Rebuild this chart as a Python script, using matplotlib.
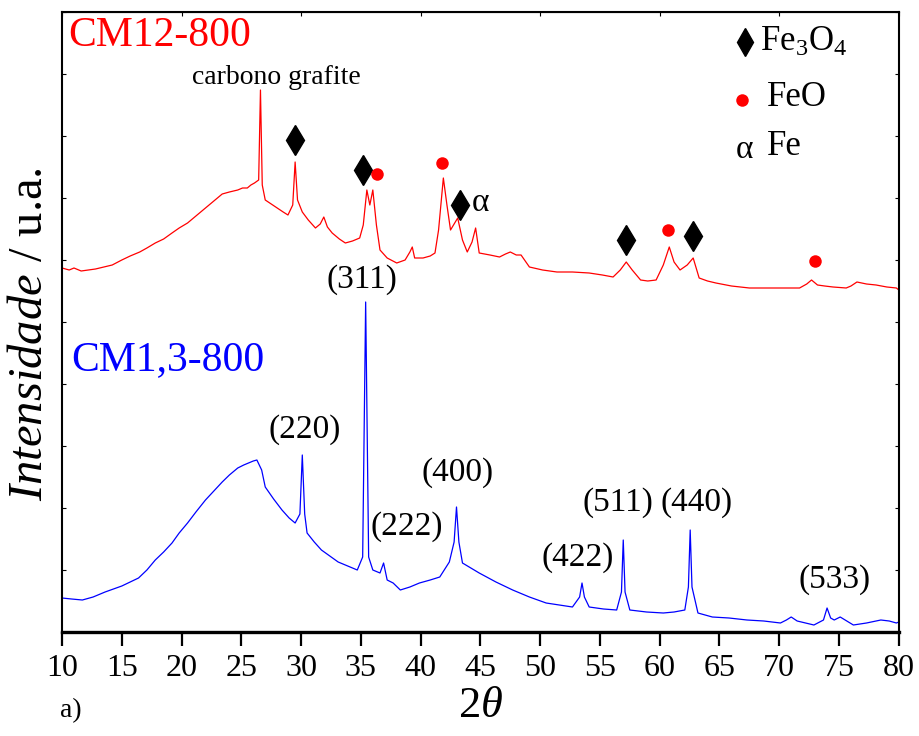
import numpy as np
import matplotlib
matplotlib.use("Agg")
import matplotlib.pyplot as plt
from matplotlib.ticker import MultipleLocator

plt.rcParams['font.family'] = ['Liberation Serif', 'DejaVu Serif']
plt.rcParams['mathtext.fontset'] = 'custom'
plt.rcParams['mathtext.rm'] = 'Liberation Serif'
plt.rcParams['mathtext.it'] = 'Liberation Serif:italic'

# Intensidade (u.a.), zero na base do eixo
# CM12-800 (vermelho)
theta_red = [10.0, 10.6, 11.0, 11.6, 12.2, 12.8, 13.5, 14.2, 15.0, 15.7, 16.5, 17.1,
             17.8, 18.5, 19.2, 19.8, 20.5, 21.2, 22.0, 22.7, 23.4, 24.0, 24.7, 25.1,
             25.5, 25.8, 26.1, 26.45, 26.6, 26.75, 27.0, 27.5, 28.0, 28.5, 28.9, 29.3,
             29.5, 29.7, 30.1, 30.6, 31.2, 31.6, 31.9, 32.2, 32.6, 33.2, 33.7, 34.3,
             34.9, 35.2, 35.5, 35.75, 36.0, 36.3, 36.6, 37.2, 38.0, 38.7, 39.1, 39.3,
             39.5, 40.2, 40.8, 41.2, 41.5, 41.9, 42.2, 42.5, 42.8, 43.1, 43.5, 43.9,
             44.3, 44.6, 44.9, 45.8, 46.6, 47.1, 47.5, 48.0, 48.4, 49.1, 50.2, 51.4,
             52.7, 54.1, 55.2, 56.1, 56.7, 57.2, 57.7, 58.4, 59.0, 59.7, 60.3, 60.8,
             61.2, 61.7, 62.3, 62.8, 63.3, 64.0, 64.7, 66.0, 67.5, 69.0, 70.3, 71.7,
             72.3, 72.7, 73.2, 73.8, 74.5, 75.6, 76.0, 76.5, 77.3, 78.1, 79.0, 79.8, 80.0]
int_red = [364, 362, 364, 361, 362, 363, 365, 367, 372, 376, 380, 384,
           389, 393, 399, 404, 409, 416, 424, 431, 438, 440, 442, 444,
           444, 447, 449, 452, 542, 447, 432, 428, 424, 420, 417, 427,
           470, 432, 420, 412, 404, 408, 415, 405, 399, 393, 389, 391,
           394, 407, 442, 427, 442, 407, 382, 374, 369, 372, 380, 385,
           374, 374, 376, 379, 402, 454, 427, 402, 408, 414, 392, 380,
           390, 404, 379, 377, 375, 378, 380, 377, 377, 365, 362, 360,
           360, 359, 357, 355, 362, 370, 362, 352, 351, 352, 367, 385,
           370, 362, 367, 374, 354, 351, 349, 346, 344, 344, 344, 344,
           348, 352, 347, 346, 345, 344, 346, 350, 348, 347, 345, 344, 342]

# CM1,3-800 (azul)
theta_blue = [10.0, 10.8, 11.7, 12.6, 13.6, 14.3, 15.0, 15.7, 16.4, 17.1, 17.8, 18.5,
              19.2, 19.8, 20.5, 21.2, 22.0, 22.7, 23.4, 24.0, 24.7, 25.2, 25.6, 26.0,
              26.3, 26.7, 27.0, 27.7, 28.4, 29.0, 29.5, 29.9, 30.1, 30.3, 30.5, 31.1,
              31.7, 32.4, 33.1, 33.9, 34.7, 35.15, 35.4, 35.65, 36.0, 36.6, 36.9, 37.2,
              37.7, 38.3, 39.1, 39.9, 40.8, 41.6, 42.4, 42.8, 43.0, 43.2, 43.5, 44.2,
              44.9, 46.3, 47.7, 49.1, 50.5, 51.6, 52.7, 53.3, 53.5, 53.7, 54.1, 55.3,
              56.4, 56.8, 56.95, 57.1, 57.5, 58.9, 60.3, 61.2, 62.1, 62.4, 62.55, 62.7,
              63.2, 64.4, 65.8, 67.3, 68.7, 70.1, 70.6, 71.0, 71.5, 72.9, 73.7, 74.0,
              74.3, 74.6, 75.1, 76.2, 77.3, 78.5, 79.2, 79.8, 80.0]
int_blue = [34, 33, 32, 35, 40, 43, 46, 50, 54, 62, 72, 80,
            89, 99, 109, 120, 132, 141, 150, 157, 164, 167, 169, 171,
            172, 162, 145, 133, 122, 114, 109, 118, 177, 118, 99, 90,
            82, 76, 70, 66, 62, 75, 330, 75, 62, 59, 69, 52,
            49, 42, 45, 49, 52, 55, 70, 90, 125, 90, 69, 64,
            59, 50, 42, 35, 29, 27, 25, 35, 49, 35, 25, 23,
            22, 40, 92, 40, 22, 20, 19, 20, 22, 45, 102, 45,
            19, 15, 14, 12, 11, 9, 12, 15, 11, 7, 12, 24,
            14, 12, 15, 7, 9, 12, 11, 9, 10]

# Picos de Fe3O4 (losango) e FeO (círculo) marcados no CM12-800
fe3o4_theta = [29.5, 35.2, 43.3, 57.2, 62.8]
fe3o4_int = [492, 462, 427, 392, 396]
feo_theta = [36.35, 41.8, 60.7, 73.0]
feo_int = [458, 469, 402, 371]

# Planos (hkl) do CM1,3-800
hkl_labels = ['(311)', '(220)', '(222)', '(400)', '(422)', '(511)', '(440)', '(533)']
hkl_theta = [35.1, 30.3, 38.8, 43.1, 53.1, 56.5, 63.1, 74.6]
hkl_int = [352, 202, 105, 159, 74, 129, 129, 52]

fig = plt.figure(figsize=(9.19, 7.36), dpi=100)
ax = fig.add_axes([0.0675, 0.1413, 0.9105, 0.8424])

ax.plot(theta_red, int_red, color='red', lw=0.9)
ax.plot(theta_blue, int_blue, color='blue', lw=0.9)

ax.plot(fe3o4_theta, fe3o4_int, ls='none', marker='d', ms=15, color='black')
ax.plot(feo_theta, feo_int, ls='none', marker='o', ms=9, color='red', mec='none')
ax.text(45.0, 429, 'α', fontsize=24, ha='center', va='center')

ax.text(27.9, 554, 'carbono grafite', fontsize=20, ha='center', va='center')
ax.text(10.5, 596, 'CM12-800', fontsize=30, color='red', ha='left', va='center')
ax.text(10.8, 272, 'CM1,3-800', fontsize=30, color='blue', ha='left', va='center')

for lab, tx, ty in zip(hkl_labels, hkl_theta, hkl_int):
    ax.text(tx, ty, lab, fontsize=24, ha='center', va='center')

# Legenda manual
ax.plot([67.1], [590], ls='none', marker='d', ms=14, color='black')
ax.text(68.4, 590, r'Fe$_3$O$_4$', fontsize=25, ha='left', va='center')
ax.plot([66.9], [532], ls='none', marker='o', ms=9, color='red', mec='none')
ax.text(69.0, 534, 'FeO', fontsize=25, ha='left', va='center')
ax.text(67.1, 482, 'α', fontsize=24, ha='center', va='center')
ax.text(69.0, 485, 'Fe', fontsize=25, ha='left', va='center')

ax.set_xlim(10, 80)
ax.set_ylim(0, 620)
ax.xaxis.set_major_locator(MultipleLocator(5))
ax.yaxis.set_major_locator(MultipleLocator(62))
ax.tick_params(axis='x', which='major', direction='out', length=10, width=1.6,
               labelsize=23, pad=6, top=False)
ax.tick_params(axis='y', direction='in', length=3, width=0.8, left=True, right=True,
               labelleft=False)
ax.secondary_xaxis('top').tick_params(direction='in', length=3, width=0.8, labeltop=False)
for s in ['left', 'right', 'top']:
    ax.spines[s].set_linewidth(1.5)
ax.spines['bottom'].set_linewidth(2.4)

ax.set_xlabel(r'$2\theta$', fontsize=32, labelpad=2)
ax.set_ylabel(r'$\mathit{Intensidade}$ / u.a.', fontsize=35, labelpad=4)
ax.yaxis.set_label_coords(-0.012, 0.48)
fig.text(0.065, 0.035, 'a)', fontsize=20, ha='left', va='center')

fig.savefig('out.png', dpi=100)
